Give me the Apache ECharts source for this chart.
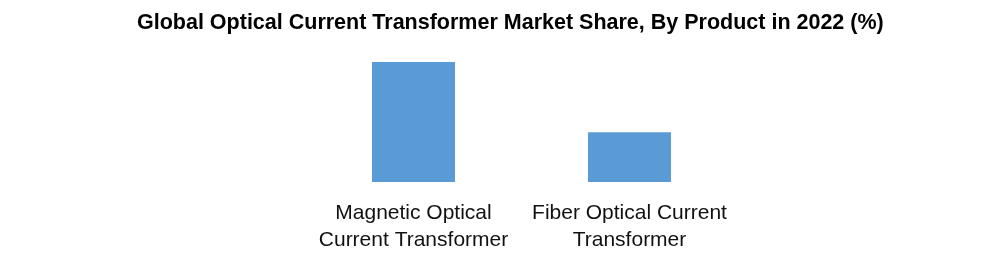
<!DOCTYPE html>
<html><head><meta charset="utf-8">
<script src="https://cdn.jsdelivr.net/npm/echarts@6/dist/echarts.min.js"></script>
<style>html,body{margin:0;padding:0;background:#fff}#c{width:986px;height:272px}</style>
</head><body><div id="c"></div>
<script>
const title = 'Global Optical Current Transformer Market Share, By Product in 2022 (%)';
const categories = ['Magnetic Optical\nCurrent Transformer', 'Fiber Optical Current\nTransformer'];
const values = [70.7, 29.3];
const chart = echarts.init(document.getElementById('c'));
chart.setOption({
  backgroundColor: '#ffffff',
  animation: false,
  title: {
    text: title, left: 132, top: 7,
    textStyle: { fontFamily: 'Liberation Sans', fontWeight: 'bold', fontSize: 21.5, color: '#000' }
  },
  grid: { left: 305.5, width: 432, top: 62, bottom: 90 },
  xAxis: {
    type: 'category', data: categories,
    axisLine: { show: false }, axisTick: { show: false },
    axisLabel: { margin: 18, fontFamily: 'Liberation Sans', fontSize: 21, lineHeight: 27, color: '#111', interval: 0 }
  },
  yAxis: { type: 'value', min: 0, max: 'dataMax', show: false, splitLine: { show: false } },
  series: [{ type: 'bar', data: values, barWidth: 83, itemStyle: { color: '#5b9bd5' } }]
});
</script></body></html>
